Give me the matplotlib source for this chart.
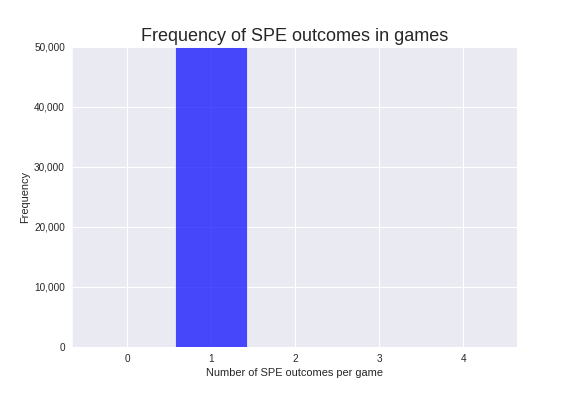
import matplotlib
matplotlib.use("Agg")
import matplotlib.pyplot as plt
import seaborn as sns
from matplotlib.ticker import FuncFormatter

sns.set_style("darkgrid")
plt.rcParams['font.family'] = ['Liberation Sans', 'DejaVu Sans']

outcomes = [0, 1, 2, 3, 4]
frequency = [0, 50000, 0, 0, 0]

fig = plt.figure(figsize=(8, 5.5), dpi=72)
ax = fig.add_axes([72/576, 1-347/396, (517-72)/576, (347-47)/396])
ax.bar(outcomes, frequency, width=0.85, color='blue', alpha=0.7)
ax.set_xlim(-0.655, 4.64)
ax.set_ylim(0, 50000)
ax.set_xticks(outcomes)
ax.set_yticks([0, 10000, 20000, 30000, 40000, 50000])
ax.yaxis.set_major_formatter(FuncFormatter(lambda v, p: f"{int(v):,}"))
ax.grid(True, color='white', linewidth=1.0)
ax.tick_params(labelsize=10)
ax.set_title("Frequency of SPE outcomes in games", fontsize=18)
ax.set_xlabel("Number of SPE outcomes per game", fontsize=11)
ax.set_ylabel("Frequency", fontsize=11)
fig.savefig("out.png", dpi=72)
